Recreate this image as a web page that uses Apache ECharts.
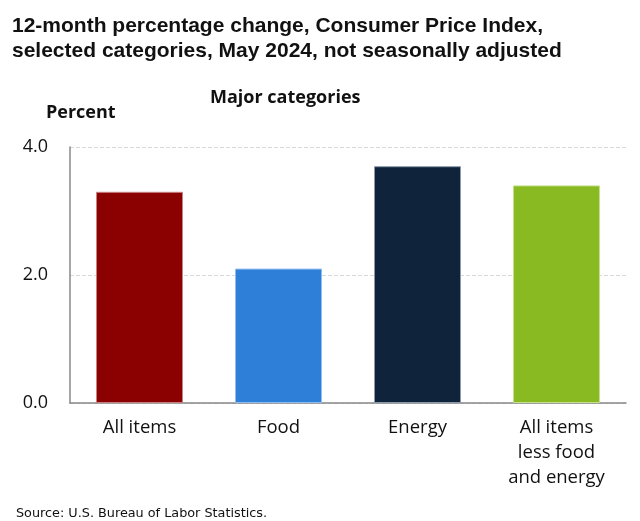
<!DOCTYPE html>
<html><head><meta charset="utf-8">
<script src="https://cdn.jsdelivr.net/npm/echarts@6/dist/echarts.min.js"></script>
<style>html,body{margin:0;padding:0;background:#fff}#c{width:640px;height:521px}</style>
</head><body><div id="c"></div>
<script>
const categories = ["All items", "Food", "Energy", "All items\nless food\nand energy"];
const values = [3.3, 2.1, 3.7, 3.4];
const colors = ["#8b0000", "#2e7fd8", "#0f233b", "#8aba22"];
const borders = ["#c98080", "#8fbdf0", "#8a9aac", "#c5e08a"];
const yTicks = [0, 2, 4];

const chart = echarts.init(document.getElementById('c'));
chart.setOption({
  backgroundColor: '#fff',
  animation: false,
  title: [
    { text: "12-month percentage change, Consumer Price Index,\nselected categories, May 2024, not seasonally adjusted",
      left: 7, top: 9,
      textStyle: { fontFamily: 'Liberation Sans, Arial', fontWeight: 'bold', fontSize: 21, color: '#111', lineHeight: 25 } },
    { text: "Major categories", left: 205, top: 84,
      textStyle: { fontFamily: 'Open Sans, Calibri', fontWeight: 'bold', fontSize: 18, color: '#111' } },
    { text: "Percent", left: 41, top: 99,
      textStyle: { fontFamily: 'Open Sans, Calibri', fontWeight: 'bold', fontSize: 18, color: '#111' } },
    { text: "Source: U.S. Bureau of Labor Statistics.", left: 11, top: 502,
      textStyle: { fontFamily: 'DejaVu Sans', fontWeight: 'normal', fontSize: 12.8, color: '#111' } }
  ],
  grid: { left: 70, right: 14, top: 147, bottom: 118 },
  xAxis: {
    type: 'category', data: categories,
    axisLine: { lineStyle: { color: '#888', width: 1.5 } },
    axisTick: { show: false },
    axisLabel: { fontFamily: 'Open Sans, Calibri', fontSize: 18.5, color: '#111', margin: 12, lineHeight: 25 }
  },
  yAxis: {
    type: 'value', min: 0, max: 4, interval: 2,
    axisLine: { show: true, lineStyle: { color: '#888', width: 1.5 } },
    axisTick: { show: false },
    splitLine: { lineStyle: { color: '#d9d9d9', type: 'dashed' } },
    axisLabel: { fontFamily: 'Open Sans, Calibri', fontSize: 18, color: '#111', margin: 22,
      formatter: v => yTicks.includes(v) ? v.toFixed(1) : '' }
  },
  series: [{
    type: 'bar', barWidth: 87,
    data: values.map((v, i) => ({ value: v, itemStyle: { color: colors[i], borderColor: borders[i], borderWidth: 1 } }))
  }]
});
</script></body></html>
